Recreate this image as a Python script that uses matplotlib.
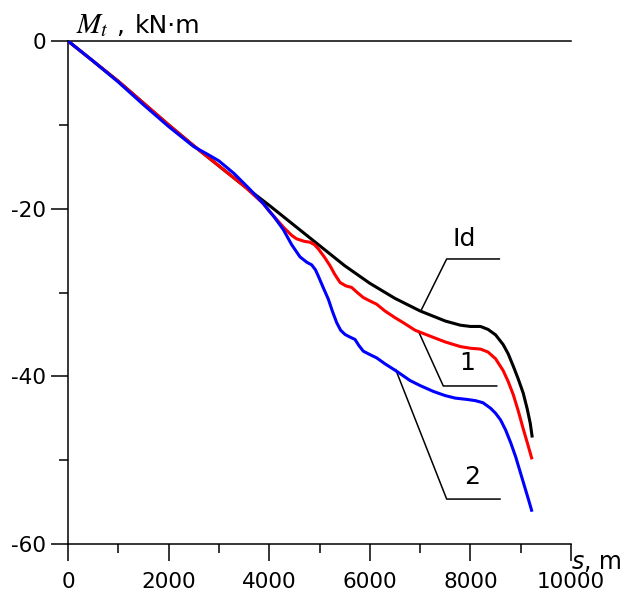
import matplotlib
matplotlib.use("Agg")
import matplotlib.pyplot as plt
from matplotlib.ticker import MultipleLocator

# ---- data ----
s_id = [0, 500, 1000, 1500, 2000, 2500, 3000, 3500, 4000, 4500, 5000, 5500,
        6000, 6500, 7000, 7500, 7800, 8000, 8200, 8350, 8500, 8650, 8750,
        8853, 8950, 9050, 9130, 9190, 9230]
m_id = [0, -2.4, -4.8, -7.4, -10.0, -12.5, -14.9, -17.3, -19.6, -22.0, -24.4,
        -26.8, -28.9, -30.7, -32.2, -33.4, -33.9, -34.05, -34.05, -34.4,
        -35.05, -36.2, -37.3, -38.8, -40.3, -42.0, -43.9, -45.6, -47.3]

s_1 = [0, 500, 1000, 1500, 2000, 2500, 3000, 3500, 3883, 4000, 4150, 4281,
       4450, 4546, 4700, 4811, 4900, 4977, 5100, 5209, 5300, 5408, 5520, 5640,
       5750, 5871, 6000, 6137, 6300, 6500, 6666, 6900, 7197, 7500, 7800, 8000,
       8200, 8350, 8500, 8650, 8750, 8853, 8950, 9052, 9140, 9225]
m_1 = [0, -2.4, -4.8, -7.4, -10.0, -12.5, -14.9, -17.3, -19.4, -20.3, -21.3,
       -22.2, -23.2, -23.6, -23.9, -24.0, -24.3, -24.8, -25.8, -26.8, -27.8,
       -28.8, -29.2, -29.4, -30.0, -30.6, -31.0, -31.4, -32.2, -33.0, -33.6,
       -34.5, -35.2, -35.9, -36.45, -36.65, -36.75, -37.1, -37.9, -39.3,
       -40.6, -42.2, -44.1, -46.3, -48.1, -49.9]

s_2 = [0, 500, 1000, 1500, 2000, 2500, 2800, 3000, 3300, 3600, 3883, 4100,
       4281, 4447, 4612, 4750, 4844, 4920, 4977, 5080, 5176, 5260, 5342, 5420,
       5507, 5600, 5706, 5780, 5871, 6000, 6137, 6300, 6535, 6800, 7000, 7263,
       7500, 7700, 7926, 8100, 8250, 8400, 8500, 8600, 8700, 8800, 8900, 9000,
       9080, 9150, 9225]
m_2 = [0, -2.4, -4.9, -7.6, -10.2, -12.6, -13.6, -14.3, -15.8, -17.6, -19.4,
       -21.0, -22.5, -24.3, -25.75, -26.4, -26.7, -27.3, -28.05, -29.5, -30.8,
       -32.3, -33.6, -34.5, -35.0, -35.3, -35.6, -36.3, -37.0, -37.4, -37.8,
       -38.5, -39.4, -40.5, -41.1, -41.8, -42.3, -42.6, -42.75, -42.9, -43.15,
       -43.8, -44.4, -45.2, -46.4, -47.9, -49.6, -51.6, -53.2, -54.6, -56.15]

curve_labels = ["Id", "1", "2"]
label_pos = [(7873, -23.6), (7932, -38.4), (8042, -52.0)]
leaders = [
    ([7031, 7528, 8575], [-32.0, -26.0, -26.0]),
    ([6965, 7461, 8523], [-34.6, -41.15, -41.15]),
    ([6515, 7528, 8588], [-39.2, -54.64, -54.64]),
]

x_ticks = [0, 2000, 4000, 6000, 8000, 10000]
y_ticks = [0, -20, -40, -60]

# ---- figure ----
plt.rcParams['axes.unicode_minus'] = False
plt.rcParams['font.family'] = ['DejaVu Sans']
plt.rcParams['mathtext.fontset'] = 'stix'

W, H = 624, 596
fig = plt.figure(figsize=(W / 100, H / 100), dpi=100)
ax = fig.add_axes([68 / W, 1 - 544 / H, (571 - 68) / W, (544 - 41) / H])

ax.plot(s_id, m_id, color='black', lw=2.2, solid_capstyle='butt', zorder=3)
ax.plot(s_1, m_1, color='#ff0000', lw=2.2, solid_capstyle='butt', zorder=4)
ax.plot(s_2, m_2, color='#0000ff', lw=2.2, solid_capstyle='butt', zorder=5)

for (lx, ly) in leaders:
    ax.plot(lx, ly, color='black', lw=1.1, zorder=2)
for t, (tx, ty) in zip(curve_labels, label_pos):
    ax.text(tx, ty, t, fontsize=18, ha='center', va='center')

ax.set_xlim(0, 10000)
ax.set_ylim(-60, 0)
ax.set_xticks(x_ticks)
ax.set_yticks(y_ticks)
ax.xaxis.set_minor_locator(MultipleLocator(1000))
ax.yaxis.set_minor_locator(MultipleLocator(10))
ax.tick_params(which='major', direction='out', length=12.5, width=1.1,
               labelsize=15.5, color='black')
ax.tick_params(which='minor', direction='out', length=6.2, width=1.1)
ax.tick_params(axis='x', which='major', pad=8)
ax.tick_params(axis='y', which='major', pad=3)
ax.tick_params(top=False, right=False, which='both')
ax.spines['right'].set_visible(False)
for sp in ['left', 'bottom', 'top']:
    ax.spines[sp].set_linewidth(1.1)

# axis titles
fig.text(76 / W, 1 - 33 / H, r'$M_t$', fontsize=21, va='baseline', ha='left')
fig.text(116 / W, 1 - 33 / H, ',', fontsize=18, va='baseline', ha='left')
fig.text(135 / W, 1 - 33 / H, 'kN·m', fontsize=18, va='baseline', ha='left')
fig.text(572 / W, 1 - 569 / H, 's', fontsize=17, style='italic',
         va='baseline', ha='left')
fig.text(584 / W, 1 - 569 / H, ', m', fontsize=17, va='baseline', ha='left')

fig.savefig('out.png', dpi=100)
